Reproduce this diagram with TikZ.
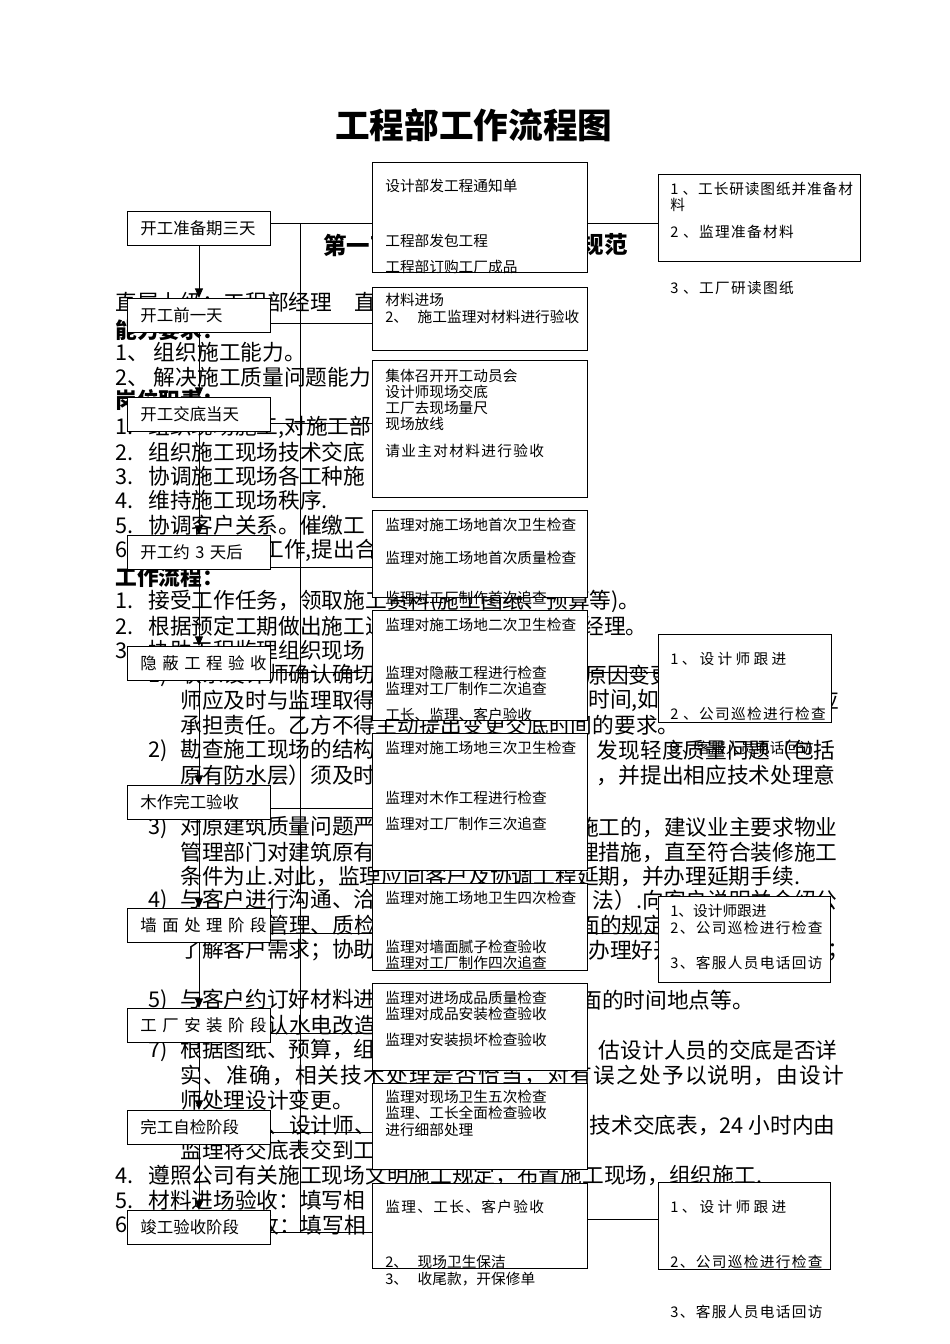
\documentclass[tikz,border=0pt]{standalone}
\usepackage{fontspec}
\setmainfont{Noto Sans CJK SC}
\usetikzlibrary{positioning,arrows.meta}
\newdimen\px \px=0.6266pt
\newcommand{\bodyfs}{\fontsize{13.6}{16}\selectfont}
\newcommand{\stagefs}{\fontsize{10.3}{12}\selectfont}
\newcommand{\notefs}{\fontsize{9.2}{11}\selectfont}
\newcommand{\nr}[1]{\makebox[33\px][l]{#1}}
\newcommand{\sr}[1]{\makebox[32\px][l]{#1}}

\begin{document}
\begin{tikzpicture}[x=1\px,y=-1\px,
	title/.style={anchor=west,inner sep=0pt,font=\fontsize{21.7}{26}\selectfont\bfseries},
	head/.style={anchor=west,inner sep=0pt,font=\fontsize{14.7}{17}\selectfont\bfseries},
	bg/.style={anchor=west,inner sep=0pt,font=\bodyfs},
	bgr/.style={anchor=east,inner sep=0pt,font=\bodyfs},
	hd/.style={anchor=west,inner sep=0pt,font=\bodyfs\bfseries},
	stage/.style={draw,fill=white,line width=0.6pt,anchor=north west,minimum width=143\px,minimum height=34\px,text width=117\px,inner xsep=13\px,inner ysep=0pt,align=left,font=\stagefs},
	work/.style={draw,fill=white,line width=0.6pt,anchor=north west,minimum width=215\px,inner sep=0pt},
	check/.style={draw,fill=white,line width=0.6pt,anchor=north west,inner sep=0pt},
	note/.style={anchor=west,inner sep=0pt,font=\notefs},
	wide/.style={anchor=west,inner sep=0pt,font={\notefs\addfontfeature{LetterSpace=9}}},
	link/.style={line width=0.6pt},
	flow/.style={line width=0.6pt,-{Triangle[length=6pt,width=5pt]}}]
	\useasboundingbox (0,0) rectangle (950,1344);

	% title and heading
	\node[title]			(ti)	at (335,125)	{工程部工作流程图};
	\node[head]				(h1)	at (323,245)	{第一节};
	\node[head,anchor=east]	(h2)	at (628,245)	{规范};

	% body text under the chart
	\node[bg]	(b1)	at (115,302)	{直属上级：工程部经理　直};
	\node[hd]	(b2)	at (115,330)	{能力要求：};
	\node[bg]	(b3)	at (115,352)	{1、 组织施工能力。};
	\node[bg]	(b4)	at (115,377)	{2、 解决施工质量问题能力};
	\node[hd]	(b5)	at (115,400)	{岗位职责：};
	\node[bg]	(b6)	at (115,427)	{\nr{1.}组织现场施工,对施工部};
	\node[bg]	(b7)	at (115,452)	{\nr{2.}组织施工现场技术交底};
	\node[bg]	(b8)	at (115,476)	{\nr{3.}协调施工现场各工种施};
	\node[bg]	(b9)	at (115,500)	{\nr{4.}维持施工现场秩序.};
	\node[bg]	(b10)	at (115,525)	{\nr{5.}协调客户关系。催缴工};
	\node[bg]	(b11)	at (115,550)	{6.};
	\node[bg]	(b12)	at (262,550)	{工作,提出合};
	\node[hd]	(b13)	at (115,577)	{工作流程：};
	\node[bg]	(b14)	at (115,601)	{\nr{1.}接受工作任务，领取施工资料(施工图纸、预算等)。};
	\node[bg]	(b15)	at (115,626)	{\nr{2.}根据预定工期做出施工进度计划表，报工程部经理。};
	\node[bg]	(b16)	at (115,650)	{\nr{3.}协助工程监理组织现场};
	\node[bg]	(b17)	at (148,675)	{\sr{1)}联系设计师确认确切};
	\node[bg]	(b18)	at (585,675)	{原因变更};
	\node[bg]	(b19)	at (180,700)	{师应及时与监理取得};
	\node[bg]	(b20)	at (588,700)	{时间,如};
	\node[bgr]	(b21)	at (840,700)	{应};
	\node[bg]	(b22)	at (180,725)	{承担责任。乙方不得主动提出变更交底时间的要求。};
	\node[bg]	(b23)	at (148,750)	{\sr{2)}勘查施工现场的结构};
	\node[bgr]	(b24)	at (836,750)	{发现轻度质量问题（包括};
	\node[bg]	(b25)	at (180,775)	{原有防水层）须及时};
	\node[bgr]	(b26)	at (836,775)	{，并提出相应技术处理意};
	\node[bg]	(b27)	at (148,827)	{\sr{3)}对原建筑质量问题严};
	\node[bgr]	(b28)	at (838,827)	{施工的，建议业主要求物业};
	\node[bg]	(b29)	at (180,852)	{管理部门对建筑原有};
	\node[bgr]	(b30)	at (838,852)	{理措施，直至符合装修施工};
	\node[bg]	(b31)	at (180,876)	{条件为止.对此，监理应同客户及协调工程延期，并办理延期手续.};
	\node[bg]	(b32)	at (148,900)	{\sr{4)}与客户进行沟通、洽};
	\node[bgr]	(b33)	at (838,900)	{法）.向客户说明并介绍公};
	\node[bg]	(b34)	at (267,925)	{管理、质检};
	\node[bg]	(b35)	at (578,925)	{面的规定};
	\node[bg]	(b36)	at (180,950)	{了解客户需求；协助};
	\node[bg]	(b37)	at (588,950)	{办理好开};
	\node[bgr]	(b38)	at (850,950)	{续；};
	\node[bg]	(b39)	at (148,1000)	{\sr{5)}与客户约订好材料进};
	\node[bg]	(b40)	at (580,1000)	{面的时间地点等。};
	\node[bg]	(b41)	at (267,1025)	{认水电改造};
	\node[bg]	(b42)	at (148,1050)	{\sr{7)}根据图纸、预算，组};
	\node[bgr]	(b43)	at (838,1050)	{估设计人员的交底是否详};
	\node[bg,font={\bodyfs\addfontfeature{LetterSpace=5.7}}]	(b44)	at (180,1075)	{实、准确，相关技术处理是否恰当，对有误之处予以说明，由设计};
	\node[bg]	(b45)	at (180,1100)	{师处理设计变更。};
	\node[bg]	(b46)	at (267,1125)	{、设计师、};
	\node[bgr]	(b47)	at (836,1125)	{技术交底表，24 小时内由};
	\node[bg]	(b48)	at (180,1150)	{监理将交底表交到工};
	\node[bg]	(b49)	at (115,1175)	{\nr{4.}遵照公司有关施工现场文明施工规定，布置施工现场，组织施工.};
	\node[bg]	(b50)	at (115,1200)	{\nr{5.}材料进场验收：填写相};
	\node[bg]	(b51)	at (115,1225)	{6.};
	\node[bg]	(b52)	at (257,1225)	{收：填写相};

	% stages
	\node[stage]	(1)		at (127,211)	{开工准备期三天};
	\node[stage]	(2)		at (127,298)	{开工前一天};
	\node[stage]	(3)		at (127,397)	{开工交底当天};
	\node[stage]	(4)		at (127,535)	{开工约 3 天后};
	\node[stage]	(5)		at (127,646)	{\mbox{隐 蔽 工 程 验 收}};
	\node[stage]	(6)		at (127,785)	{木作完工验收};
	\node[stage]	(7)		at (127,908)	{\mbox{墙 面 处 理 阶 段}};
	\node[stage]	(8)		at (127,1008)	{\mbox{工 厂 安 装 阶 段}};
	\node[stage]	(9)		at (127,1110)	{完工自检阶段};
	\node[stage]	(10)	at (127,1210)	{竣工验收阶段};

	% work boxes
	\node[work,minimum height=110\px]	(m1)	at (372,162)	{};
	\node[work,minimum height=63\px]	(m2)	at (372,287)	{};
	\node[work,minimum height=137\px]	(m3)	at (372,360)	{};
	\node[work,minimum height=87\px]	(m4)	at (372,510)	{};
	\node[work,minimum height=110\px]	(m5)	at (372,610)	{};
	\node[work,minimum height=137\px]	(m6)	at (372,733)	{};
	\node[work,minimum height=87\px]	(m7)	at (372,883)	{};
	\node[work,minimum height=87\px]	(m8)	at (372,983)	{};
	\node[work,minimum height=86\px]	(m9)	at (372,1083)	{};
	\node[work,minimum height=85\px]	(m10)	at (372,1183)	{};

	% follow-up boxes
	\node[check,minimum width=202\px,minimum height=87\px]	(r1)	at (658,174)	{};
	\node[check,minimum width=173\px,minimum height=88\px]	(r2)	at (658,634)	{};
	\node[check,minimum width=172\px,minimum height=86\px]	(r3)	at (658,896)	{};
	\node[check,minimum width=172\px,minimum height=87\px]	(r4)	at (658,1182)	{};

	% connectors
	\draw[flow] (1) -- (2);
	\draw[flow] (2) -- (3);
	\draw[flow] (3) -- (4);
	\draw[flow] (4) -- (5);
	\draw[flow] (5) -- (6);
	\draw[flow] (6) -- (7);
	\draw[flow] (7) -- (8);
	\draw[flow] (8) -- (9);
	\draw[flow] (9) -- (10);

	\coordinate (v1) at (300,223);
	\coordinate (v2) at (300,1232);
	\draw[link] (v1) -- (v2);

	\draw[link] (1.east |- 0,223) -- (m1.west |- 0,223);
	\draw[link] (m1.east |- 0,223) -- (r1.west |- 0,223);
	\draw[link] (2.east |- 0,323) -- (m2.west |- 0,323);
	\draw[link] (3.east |- 0,423) -- (m3.west |- 0,423);
	\draw[link] (4.east |- 0,567) -- (m4.west |- 0,567);
	\draw[link] (5.east |- 0,672) -- (m5.west |- 0,672);
	\draw[link] (m5.east |- 0,672) -- (r2.west |- 0,672);
	\draw[link] (6.east |- 0,808) -- (m6.west |- 0,808);
	\draw[link] (7.east |- 0,933) -- (m7.west |- 0,933);
	\draw[link] (m7.east |- 0,933) -- (r3.west |- 0,933);
	\draw[link] (8.east |- 0,1033) -- (m8.west |- 0,1033);
	\draw[link] (9.east |- 0,1132) -- (m9.west |- 0,1132);
	\draw[link] (10.east |- 0,1232) -- (m10.west |- 0,1232);
	\draw[link] (m10.east |- 0,1219) -- (r4.west |- 0,1219);

	% texts of the work boxes
	\node[note]	(n1)	at (385,186)	{设计部发工程通知单};
	\node[note]	(n2)	at (385,241)	{工程部发包工程};
	\node[note]	(n3)	at (385,267)	{工程部订购工厂成品};
	\node[note]	(n4)	at (385,300)	{材料进场};
	\node[note]	(n5)	at (385,317)	{2、\hspace{6pt}施工监理对材料进行验收};
	\node[note]	(n6)	at (385,376)	{集体召开开工动员会};
	\node[note]	(n7)	at (385,392)	{设计师现场交底};
	\node[note]	(n8)	at (385,408)	{工厂去现场量尺};
	\node[note]	(n9)	at (385,424)	{现场放线};
	\node[wide]	(n10)	at (385,451)	{请业主对材料进行验收};
	\node[note]	(n11)	at (385,525)	{监理对施工场地首次卫生检查};
	\node[note]	(n12)	at (385,558)	{监理对施工场地首次质量检查};
	\node[note]	(n13)	at (385,598)	{监理对工厂制作首次追查};
	\node[note]	(n14)	at (385,625)	{监理对施工场地二次卫生检查};
	\node[note]	(n15)	at (385,673)	{监理对隐蔽工程进行检查};
	\node[note]	(n16)	at (385,689)	{监理对工厂制作二次追查};
	\node[note]	(n17)	at (385,715)	{工长、监理、客户验收};
	\node[note]	(n18)	at (385,748)	{监理对施工场地三次卫生检查};
	\node[note]	(n19)	at (385,798)	{监理对木作工程进行检查};
	\node[note]	(n20)	at (385,824)	{监理对工厂制作三次追查};
	\node[note]	(n21)	at (385,898)	{监理对施工场地卫生四次检查};
	\node[note]	(n22)	at (385,947)	{监理对墙面腻子检查验收};
	\node[note]	(n23)	at (385,963)	{监理对工厂制作四次追查};
	\node[note]	(n24)	at (385,998)	{监理对进场成品质量检查};
	\node[note]	(n25)	at (385,1014)	{监理对成品安装检查验收};
	\node[note]	(n26)	at (385,1040)	{监理对安装损坏检查验收};
	\node[note]	(n27)	at (385,1097)	{监理对现场卫生五次检查};
	\node[note]	(n28)	at (385,1113)	{监理、工长全面检查验收};
	\node[note]	(n29)	at (385,1130)	{进行细部处理};
	\node[wide]	(n30)	at (385,1207)	{监理、工长、客户验收};
	\node[note]	(n31)	at (385,1262)	{2、\hspace{6pt}现场卫生保洁};
	\node[note]	(n32)	at (385,1279)	{3、\hspace{6pt}收尾款，开保修单};

	% texts of the follow-up boxes
	\node[note,font={\notefs\addfontfeature{LetterSpace=6}}]	(p1)	at (670,189)	{1 、工长研读图纸并准备材};
	\node[note]	(p2)	at (670,205)	{料};
	\node[wide]	(p3)	at (670,232)	{2 、监理准备材料};
	\node[wide]	(p4)	at (670,288)	{3 、工厂研读图纸};
	\node[note]	(p5)	at (670,659)	{1 、 设 计 师 跟 进};
	\node[wide]	(p6)	at (670,714)	{2 、公司巡检进行检查};
	\node[note]	(p7)	at (670,748)	{3 、客服人员电话回访};
	\node[note]	(p8)	at (670,911)	{1、设计师跟进};
	\node[wide]	(p9)	at (670,928)	{2、公司巡检进行检查};
	\node[wide]	(p10)	at (670,963)	{3、客服人员电话回访};
	\node[note]	(p11)	at (670,1207)	{1 、 设 计 师 跟 进};
	\node[wide]	(p12)	at (670,1262)	{2、公司巡检进行检查};
	\node[wide]	(p13)	at (670,1312)	{3、客服人员电话回访};
\end{tikzpicture}
\end{document}
